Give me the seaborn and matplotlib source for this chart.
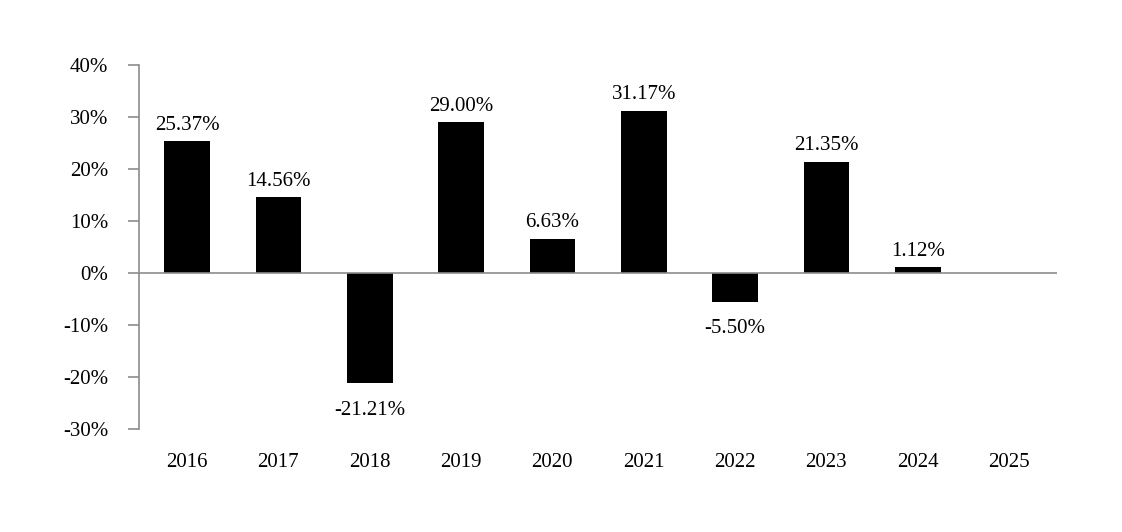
import matplotlib
matplotlib.use("Agg")
import matplotlib.pyplot as plt
import seaborn as sns
import numpy as np
import pandas as pd

years = ["2016", "2017", "2018", "2019", "2020", "2021", "2022", "2023", "2024", "2025"]
returns = [25.37, 14.56, -21.21, 29.00, 6.63, 31.17, -5.50, 21.35, 1.12, np.nan]
yticks = [-30, -20, -10, 0, 10, 20, 30, 40]

sns.set_theme(style="white")
plt.rcParams['font.family'] = ['Liberation Serif', 'DejaVu Serif']
plt.rcParams['text.color'] = 'black'

FS = 15

df = pd.DataFrame({"year": years, "ret": returns})

fig = plt.figure(figsize=(11.22, 5.32), dpi=100)
ax = fig.add_axes([0.1239, 0.1936, 0.8182, 0.6842])

sns.barplot(data=df, x="year", y="ret", order=years, color="black",
            width=0.5, ax=ax, saturation=1, errorbar=None, linewidth=0)

ax.set_xlim(-0.526, 9.526)
ax.set_ylim(-30, 40)
ax.set_yticks(yticks)
ax.set_yticklabels([f"{t}%" for t in yticks], fontsize=FS, color="black")
ax.set_xlabel("")
ax.set_ylabel("")
for lab in ax.get_xticklabels():
    lab.set_fontsize(FS)
    lab.set_color("black")

gray = "#8c8c8c"
for s in ["top", "right", "bottom"]:
    ax.spines[s].set_visible(False)
ax.spines["left"].set_color(gray)
ax.spines["left"].set_linewidth(1.2)
ax.axhline(0, color=gray, lw=1.2, zorder=3)
ax.tick_params(axis="y", direction="out", length=8, width=1.2, color=gray,
               left=True, pad=14)
ax.tick_params(axis="x", length=0, pad=17)

for i, v in enumerate(returns):
    if np.isnan(v):
        continue
    if v >= 0:
        ax.text(i, v + 1.25, f"{v:.2f}%", ha="center", va="bottom", fontsize=FS, color="black")
    else:
        ax.text(i, v - 3.4, f"{v:.2f}%", ha="center", va="top", fontsize=FS, color="black")

fig.savefig("out.png", dpi=100)
